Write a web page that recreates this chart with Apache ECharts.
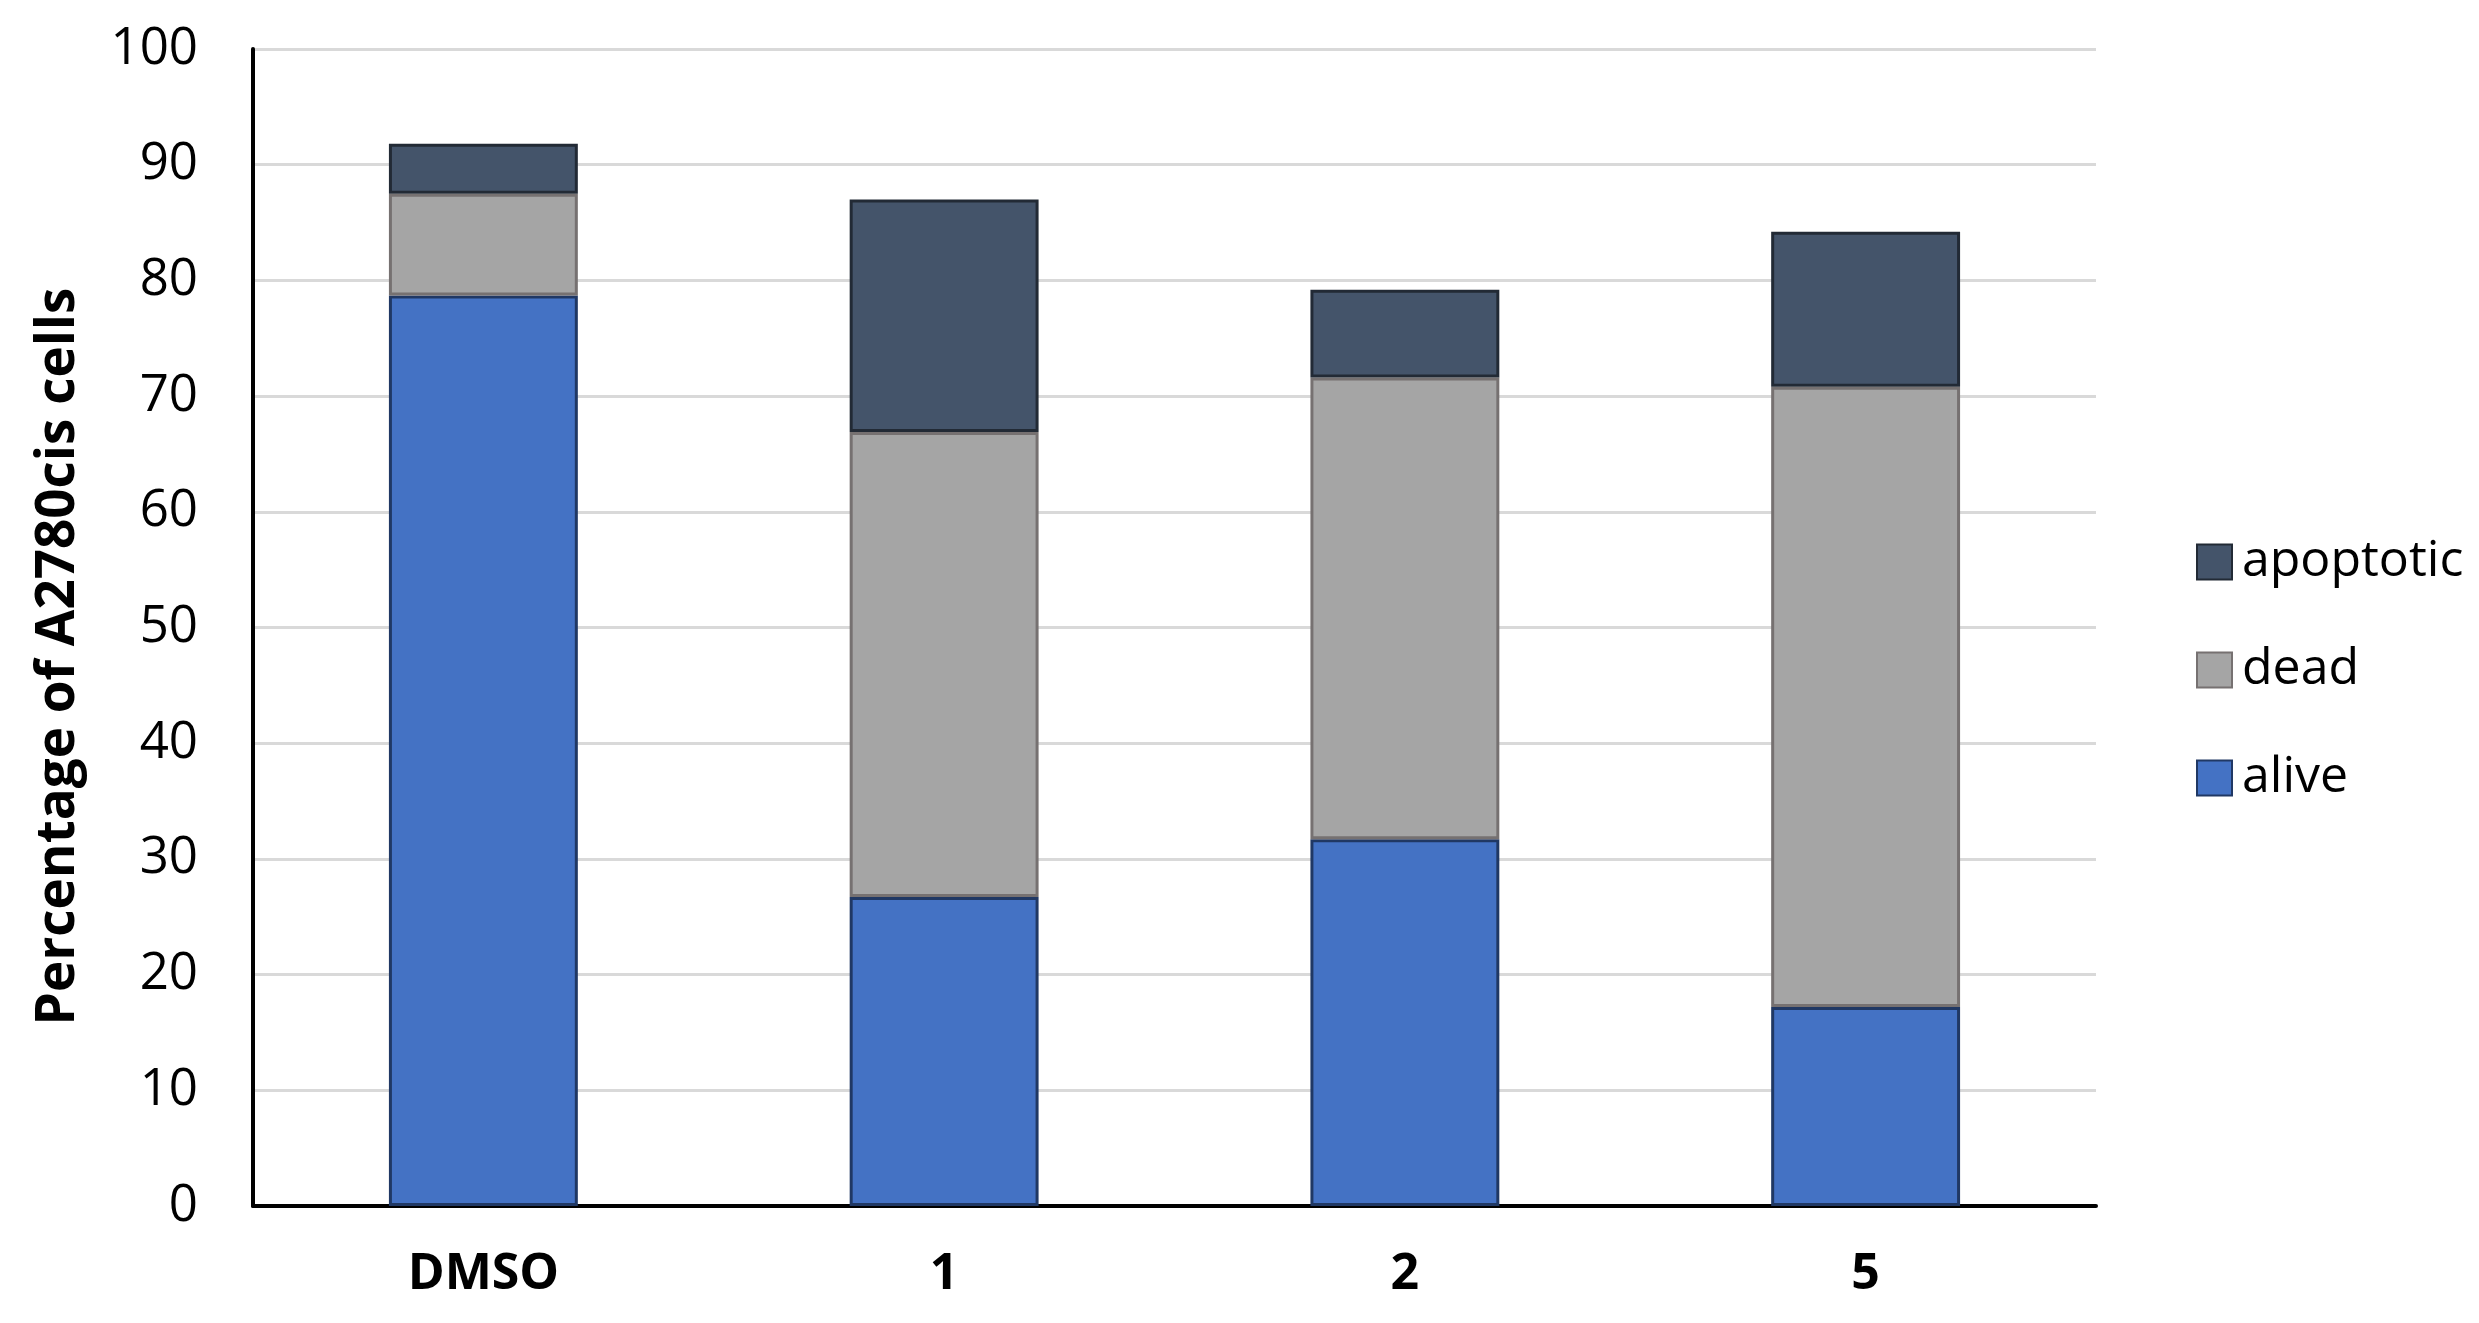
<!DOCTYPE html>
<html>
<head>
<meta charset="utf-8">
<script src="https://cdn.jsdelivr.net/npm/echarts@6/dist/echarts.min.js"></script>
<style>
  html, body { margin: 0; padding: 0; background: #fff; }
  #chart { width: 2479px; height: 1323px; }
</style>
</head>
<body>
<div id="chart"></div>
<script>
  // categories and stacked values (percent of cells)
  const categories = ['DMSO', '1', '2', '5'];
  const alive = [78.7, 26.7, 31.7, 17.2];
  const dead = [8.8, 40.2, 39.9, 53.6];
  const apoptotic = [4.3, 20.1, 7.6, 13.4];
  const yTicks = { min: 0, max: 100, interval: 10 };

  const myChart = echarts.init(document.getElementById('chart'));
  const font = '"Open Sans", "Noto Sans", sans-serif';

  myChart.setOption({
    animation: false,
    textStyle: { fontFamily: font },
    grid: {
      left: 253,
      right: 383,
      top: 49,
      bottom: 117
    },
    legend: {
      orient: 'vertical',
      left: 2191,
      top: 532,
      icon: 'rect',
      itemWidth: 35,
      itemHeight: 35,
      itemGap: 58,
      data: ['apoptotic', 'dead', 'alive'],
      textStyle: {
        fontSize: 50,
        color: '#000',
        lineHeight: 40,
        padding: [0, 0, 0, 5],
        fontFamily: font
      }
    },
    xAxis: {
      type: 'category',
      data: categories,
      axisTick: { show: false },
      axisLine: { lineStyle: { color: '#000', width: 4 } },
      axisLabel: {
        margin: 44,
        fontSize: 50,
        fontWeight: 'bold',
        color: '#000',
        fontFamily: font
      }
    },
    yAxis: {
      type: 'value',
      min: yTicks.min,
      max: yTicks.max,
      interval: yTicks.interval,
      name: 'Percentage of A2780cis cells',
      nameLocation: 'middle',
      nameGap: 168,
      nameTextStyle: {
        fontSize: 53,
        fontWeight: 'bold',
        color: '#000',
        padding: [0, 58, 0, 0],
        fontFamily: font
      },
      axisLine: { show: true, lineStyle: { color: '#000', width: 4 } },
      axisTick: { show: false },
      axisLabel: {
        margin: 55,
        fontSize: 51,
        color: '#000',
        fontFamily: font
      },
      splitLine: { lineStyle: { color: '#d9d9d9', width: 3 } }
    },
    series: [
      {
        name: 'alive',
        type: 'bar',
        stack: 'cells',
        barWidth: '41%',
        data: alive,
        itemStyle: { color: '#4472c4', borderColor: '#203864', borderWidth: 3 }
      },
      {
        name: 'dead',
        type: 'bar',
        stack: 'cells',
        data: dead,
        itemStyle: { color: '#a5a5a5', borderColor: '#767171', borderWidth: 3 }
      },
      {
        name: 'apoptotic',
        type: 'bar',
        stack: 'cells',
        data: apoptotic,
        itemStyle: { color: '#44546a', borderColor: '#222a35', borderWidth: 3 }
      }
    ]
  });
</script>
</body>
</html>
